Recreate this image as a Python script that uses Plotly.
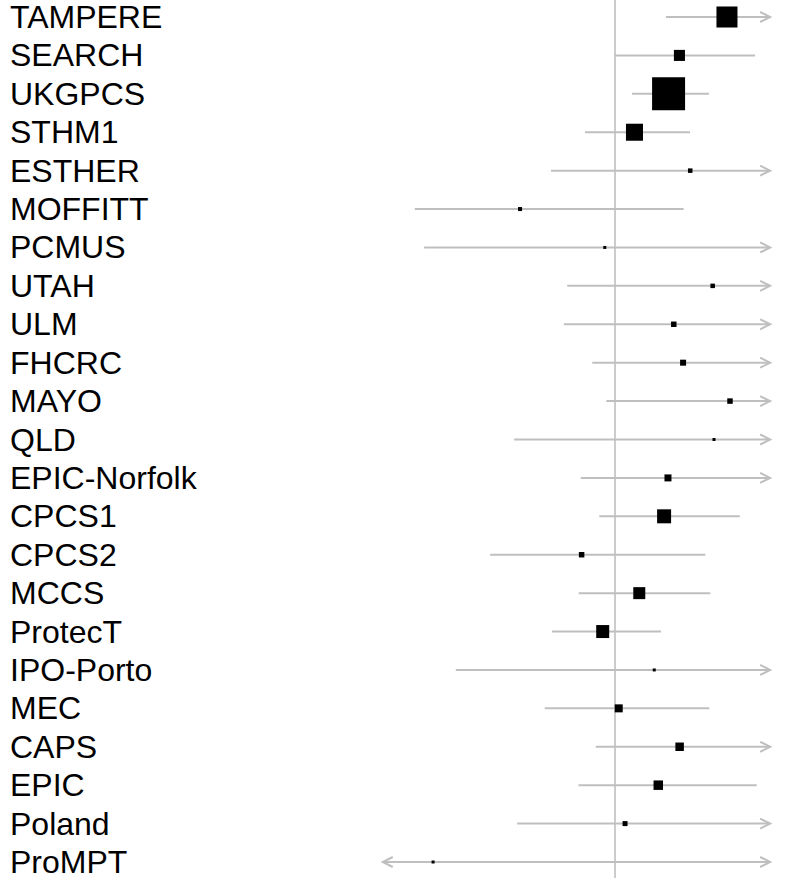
import numpy as np
import plotly.graph_objects as go

studies = ["TAMPERE", "SEARCH", "UKGPCS", "STHM1", "ESTHER", "MOFFITT", "PCMUS",
           "UTAH", "ULM", "FHCRC", "MAYO", "QLD", "EPIC-Norfolk", "CPCS1", "CPCS2",
           "MCCS", "ProtecT", "IPO-Porto", "MEC", "CAPS", "EPIC", "Poland", "ProMPT"]
odds_ratio = [1.565, 1.294, 1.239, 1.081, 1.351, 0.684, 0.960,
              1.478, 1.265, 1.313, 1.584, 1.486, 1.236, 1.217, 0.875,
              1.102, 0.952, 1.170, 1.015, 1.295, 1.189, 1.041, 0.483]
ci_lower = [1.226, 1.000, 1.070, 0.887, 0.774, 0.449, 0.466,
            0.826, 0.815, 0.913, 0.966, 0.668, 0.872, 0.939, 0.607,
            0.865, 0.777, 0.529, 0.755, 0.926, 0.864, 0.676, 0.120]
ci_upper = [2.05, 1.751, 1.456, 1.350, 2.36, 1.316, 1.98,
            2.63, 1.96, 1.89, 2.60, 3.31, 1.93, 1.647, 1.435,
            1.464, 1.202, 2.59, 1.458, 1.91, 1.763, 1.95, 1.95]
weight_pct = [14.8, 4.1, 36.5, 9.7, 0.68, 0.54, 0.30,
              0.68, 1.01, 1.21, 1.01, 0.30, 1.64, 6.57, 1.01,
              4.83, 5.67, 0.30, 2.15, 2.42, 3.03, 0.84, 0.30]

CLIP_LO, CLIP_HI = 0.395, 1.86

W, H = 785, 878
PX_PER_UNIT = 250.0
NULL_PX = 615.0
ROW0_PX, ROW_STEP = 17.0, (862.0 - 17.0) / 22.0
LINE_COL = "#bfbfbf"

est = np.log(np.array(odds_ratio))
lo = np.log(np.array(ci_lower))
hi = np.log(np.array(ci_upper))
clo, chi = np.log(CLIP_LO), np.log(CLIP_HI)
rows = np.arange(len(studies))

xs, ys = [], []
for i in rows:
    xs += [max(lo[i], clo), min(hi[i], chi), None]
    ys += [i, i, None]

w = np.array(weight_pct)
sizes = 33.0 * np.sqrt(w / w.max())

fig = go.Figure()
fig.add_trace(go.Scatter(x=xs, y=ys, mode="lines",
                         line=dict(color=LINE_COL, width=2), hoverinfo="skip"))
fig.add_trace(go.Scatter(x=est, y=rows, mode="markers",
                         marker=dict(symbol="square", size=sizes, color="black",
                                     opacity=1, line=dict(width=0)),
                         text=studies))

shapes = [dict(type="line", xref="x", yref="paper", x0=0, x1=0, y0=0, y1=1,
               line=dict(color="#cccccc", width=2), layer="below")]
for i in rows:
    if hi[i] > chi:
        shapes.append(dict(type="path", xref="x", yref="y", xsizemode="pixel",
                           ysizemode="pixel", xanchor=chi, yanchor=int(i),
                           path="M-10,-5 L0,0 L-10,5",
                           line=dict(color=LINE_COL, width=2)))
    if lo[i] < clo:
        shapes.append(dict(type="path", xref="x", yref="y", xsizemode="pixel",
                           ysizemode="pixel", xanchor=clo, yanchor=int(i),
                           path="M10,-5 L0,0 L10,5",
                           line=dict(color=LINE_COL, width=2)))

annotations = [dict(text=s, x=8 / W, xref="paper", y=int(i), yref="y",
                    xanchor="left", yanchor="middle", showarrow=False,
                    font=dict(family="Liberation Sans, Arial, sans-serif",
                              size=32, color="black"))
               for i, s in zip(rows, studies)]

x_range = [-NULL_PX / PX_PER_UNIT, (W - NULL_PX) / PX_PER_UNIT]
y_range = [(H - ROW0_PX) / ROW_STEP, -ROW0_PX / ROW_STEP]

fig.update_layout(
    width=W, height=H, margin=dict(l=0, r=0, t=0, b=0),
    paper_bgcolor="white", plot_bgcolor="white", showlegend=False,
    xaxis=dict(range=x_range, visible=False, showgrid=False, zeroline=False),
    yaxis=dict(range=y_range, visible=False, showgrid=False, zeroline=False),
    shapes=shapes, annotations=annotations,
)
fig.write_html("out.html",
               config={"displayModeBar": False},
               post_script="document.body.style.margin='0';"
                           "document.body.style.overflow='hidden';")
